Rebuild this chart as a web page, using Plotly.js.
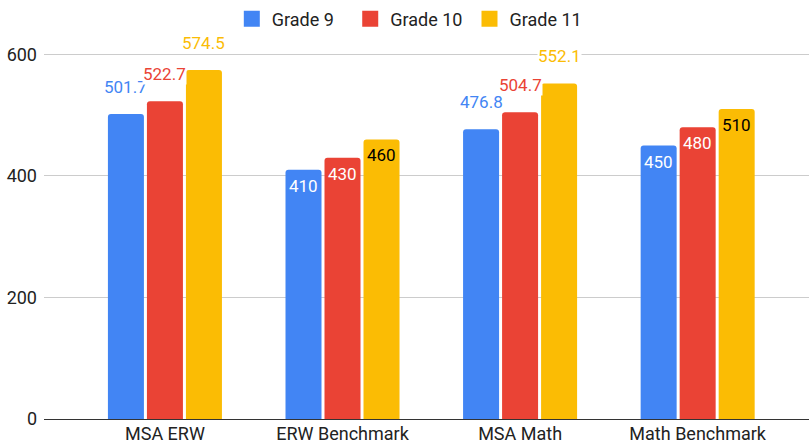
<!DOCTYPE html>
<html><head><meta charset="utf-8">
<script src="https://cdn.plot.ly/plotly-3.0.1.min.js"></script>
<style>html,body{margin:0;padding:0;background:#fff}</style>
</head><body><div id="chart" style="width:809px;height:444px"></div>
<script>
const categories = ["MSA ERW", "ERW Benchmark", "MSA Math", "Math Benchmark"];
const seriesNames = ["Grade 9", "Grade 10", "Grade 11"];
const grade9 = [501.7, 410, 476.8, 450];
const grade10 = [522.7, 430, 504.7, 480];
const grade11 = [574.5, 460, 552.1, 510];
const yTicks = [0, 200, 400, 600];
const insideLabelCats = ["ERW Benchmark", "Math Benchmark"];

const seriesValues = [grade9, grade10, grade11];
const colors = ["#4285F4", "#EA4335", "#FBBC04"];
const insideTextColors = ["#ffffff", "#ffffff", "#000000"];
const FONT = "Roboto, Arial, sans-serif";
const legendIds = ["legend", "legend2", "legend3"];
const legendX = [0.2455, 0.4003, 0.5562];

const traces = [];
seriesValues.forEach((vals, i) => {
  traces.push({
    type: "bar", x: categories, y: vals, name: seriesNames[i],
    marker: {color: colors[i], cornerradius: 3},
    showlegend: false, hoverinfo: "none"
  });
});
seriesValues.forEach((vals, i) => {
  traces.push({
    type: "scatter", mode: "markers", x: [null], y: [null], name: seriesNames[i],
    marker: {symbol: "square", size: 16, color: colors[i]},
    showlegend: true, hoverinfo: "none", legend: legendIds[i]
  });
});

const annotations = [];
const slot = 39;
seriesValues.forEach((vals, i) => {
  vals.forEach((v, j) => {
    const inside = insideLabelCats.includes(categories[j]);
    annotations.push({
      x: categories[j], y: v, xref: "x", yref: "y",
      xshift: (i - 1) * slot,
      yshift: inside ? -16 : 27,
      yanchor: "middle", xanchor: "center",
      text: String(v), showarrow: false,
      font: {family: FONT, size: 17, color: inside ? insideTextColors[i] : colors[i]},
      bgcolor: inside ? "rgba(0,0,0,0)" : "#ffffff",
      borderpad: 0
    });
  });
});

const layout = {
  width: 809, height: 444,
  margin: {l: 44, r: 0, t: 24, b: 25, pad: 0},
  paper_bgcolor: "#ffffff", plot_bgcolor: "#ffffff",
  font: {family: FONT, size: 18, color: "#222222"},
  barmode: "group", bargap: 0.341, bargroupgap: 0.077,
  showlegend: true,
  xaxis: {type: "category", range: [-0.681, 3.627], showgrid: false, showline: false,
          ticks: "", tickfont: {family: FONT, size: 18, color: "#222222"}, ticklabelstandoff: 2,
          fixedrange: true},
  yaxis: {range: [0, 650], tickvals: yTicks, ticktext: yTicks.map(String), showgrid: true,
          gridcolor: "#cccccc", gridwidth: 1, zeroline: true, zerolinecolor: "#333333",
          zerolinewidth: 1, ticks: "", ticklabelstandoff: 6, showline: false,
          tickfont: {family: FONT, size: 18, color: "#222222"}, fixedrange: true},
  annotations: annotations
};
legendIds.forEach((id, i) => {
  layout[id] = {orientation: "h", x: legendX[i], xanchor: "left", y: 1.0127, yanchor: "middle",
                font: {family: FONT, size: 18, color: "#222222"}, bgcolor: "rgba(0,0,0,0)",
                borderwidth: 0, itemwidth: 30};
});

Plotly.newPlot("chart", traces, layout, {displayModeBar: false, staticPlot: true});
</script></body></html>
